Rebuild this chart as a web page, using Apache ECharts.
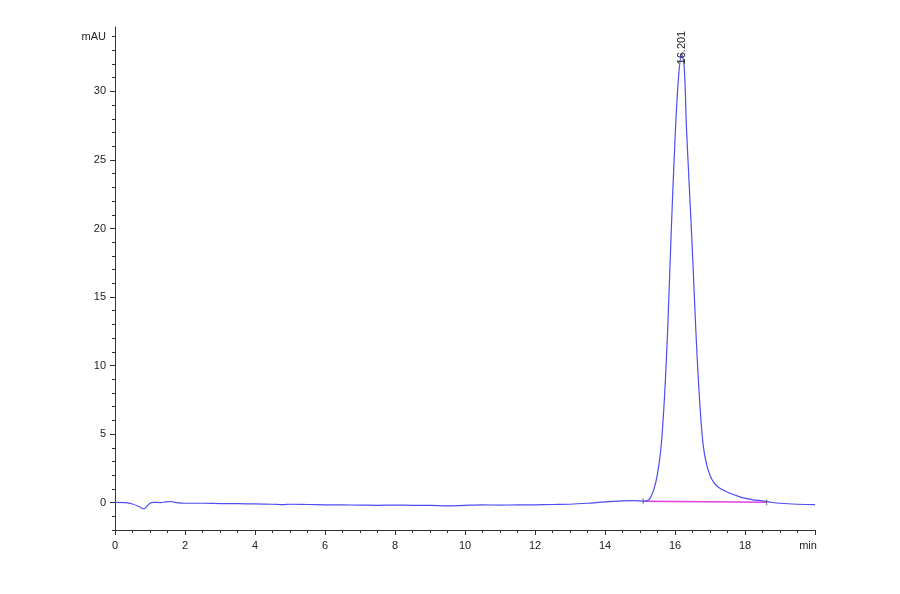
<!DOCTYPE html>
<html>
<head>
<meta charset="utf-8">
<script src="https://cdn.jsdelivr.net/npm/echarts@6/dist/echarts.min.js"></script>
<style>
  html, body { margin: 0; padding: 0; background: #fff; }
  #main { width: 900px; height: 594px; }
</style>
</head>
<body>
<div id="main"></div>
<script>
// retention time (min) and signal (mAU)
var times = [0, 0.3, 0.5, 0.7, 0.82, 0.92, 1.0, 1.1, 1.3, 1.45, 1.6, 1.75, 2.0, 2.5, 3.0, 3.5, 4.0, 4.5, 4.8, 5.0,
  5.5, 6.0, 6.5, 7.0, 7.5, 8.0, 8.5, 9.0, 9.5, 10.0, 10.5, 11.0, 11.5, 12.0, 12.5, 13.0, 13.5, 14.0, 14.5, 14.8,
  15.0, 15.15, 15.25, 15.3, 15.4, 15.5, 15.6, 15.7, 15.79, 15.89, 16.0, 16.1, 16.19, 16.26, 16.33, 16.4, 16.5, 16.6,
  16.7, 16.8, 16.9, 17.0, 17.1, 17.25, 17.5, 17.9, 18.2, 18.5, 18.7, 19.0, 19.5, 20.0];
var signal = [0.02, 0.0, -0.1, -0.3, -0.45, -0.25, -0.05, 0.02, 0.0, 0.05, 0.08, 0.0, -0.05, -0.05, -0.07, -0.08, -0.1, -0.12, -0.15, -0.12,
  -0.14, -0.16, -0.17, -0.18, -0.2, -0.18, -0.2, -0.2, -0.24, -0.2, -0.17, -0.18, -0.17, -0.16, -0.14, -0.12, -0.05, 0.05, 0.12, 0.14,
  0.12, 0.1, 0.2, 0.35, 1.0, 2.1, 4.0, 7.7, 12.6, 19.6, 26.5, 31.0, 32.7, 31.9, 27.2, 23.5, 18.2, 12.3,
  7.6, 4.3, 2.8, 2.0, 1.5, 1.1, 0.75, 0.38, 0.22, 0.12, 0.04, -0.05, -0.12, -0.15];

// integration baseline and its start / end marks
var baseTimes = [15.09, 18.62];
var baseValues = [0.1, 0.02];

var peakTime = 16.201;
var peakHeight = 32.7;

var xMajor = [0, 2, 4, 6, 8, 10, 12, 14, 16, 18, 20];
var xLabels = [0, 2, 4, 6, 8, 10, 12, 14, 16, 18, 19.8];
var yMajor = [0, 5, 10, 15, 20, 25, 30];
var yLabels = [0, 5, 10, 15, 20, 25, 30, 34];

var xMinor = [];
for (var i = 0; i <= 40; i++) xMinor.push(i * 0.5);
var yMinor = [];
for (var j = -2; j <= 34; j++) yMinor.push(j);

var trace = times.map(function (t, k) { return [t, signal[k]]; });
var base = baseTimes.map(function (t, k) { return [t, baseValues[k]]; });

var chart = echarts.init(document.getElementById('main'));

var axisColor = '#333';
var font = { color: '#222', fontSize: 11, fontFamily: 'Liberation Sans, Arial, sans-serif' };

option = {
  backgroundColor: '#fff',
  animation: false,
  grid: { left: 115, right: 85, top: 27, bottom: 64 },
  xAxis: [
    {
      type: 'value', min: 0, max: 20,
      axisLine: { onZero: false, lineStyle: { color: axisColor } },
      axisTick: { customValues: xMajor, length: 5, lineStyle: { color: axisColor } },
      axisLabel: Object.assign({
        customValues: xLabels, margin: 10,
        formatter: function (v) { return v > 19 ? 'min' : v; }
      }, font),
      splitLine: { show: false }
    },
    {
      type: 'value', min: 0, max: 20, position: 'bottom',
      axisLine: { show: false, onZero: false },
      axisTick: { customValues: xMinor, length: 3, lineStyle: { color: axisColor } },
      axisLabel: { show: false },
      splitLine: { show: false }
    }
  ],
  yAxis: [
    {
      type: 'value', min: -2, max: 34.7,
      axisLine: { show: true, onZero: false, lineStyle: { color: axisColor } },
      axisTick: { show: true, customValues: yMajor, length: 5, lineStyle: { color: axisColor } },
      axisLabel: Object.assign({
        customValues: yLabels, margin: 9,
        formatter: function (v) { return v === 34 ? 'mAU' : v; }
      }, font),
      splitLine: { show: false }
    },
    {
      type: 'value', min: -2, max: 34.7, position: 'left',
      axisLine: { show: false, onZero: false },
      axisTick: { show: true, customValues: yMinor, length: 3, lineStyle: { color: axisColor } },
      axisLabel: { show: false },
      splitLine: { show: false }
    }
  ],
  series: [
    {
      type: 'line',
      data: trace,
      smooth: 0.35,
      showSymbol: false,
      lineStyle: { color: '#4d4df2', width: 1.2 },
      z: 3,
      markPoint: {
        symbol: 'circle', symbolSize: 0,
        data: [{ coord: [peakTime, peakHeight], value: peakTime }],
        label: Object.assign({
          show: true, position: 'inside', rotate: 90,
          align: 'left', verticalAlign: 'middle', offset: [-10, 0],
          formatter: function () { return peakTime.toFixed(3); }
        }, font)
      }
    },
    {
      type: 'line',
      data: base,
      showSymbol: false,
      lineStyle: { color: '#e040e0', width: 1.5 },
      z: 2
    },
    {
      type: 'scatter',
      data: base,
      symbol: 'rect',
      symbolSize: [1, 6],
      itemStyle: { color: '#555' },
      z: 4
    }
  ]
};

chart.setOption(option);
</script>
</body>
</html>
